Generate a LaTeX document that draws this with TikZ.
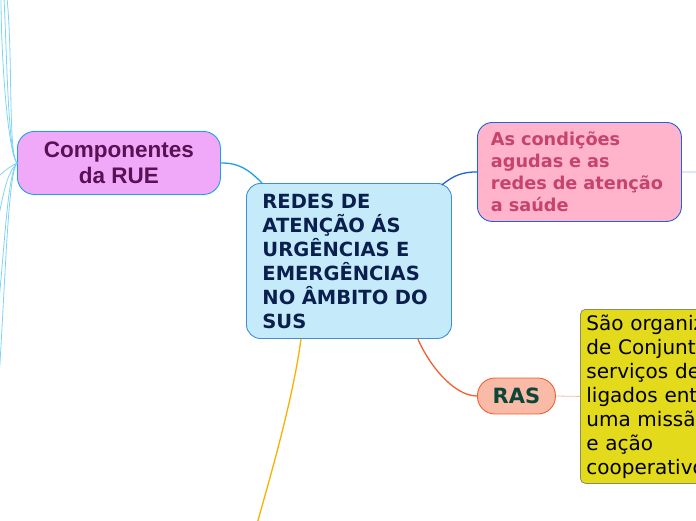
\documentclass[tikz,border=0pt]{standalone}
\usepackage{fontspec}
\usepackage{tikz}
\usetikzlibrary{arrows.meta,positioning,calc}
\newfontfamily\verd{DejaVu Sans}
\newfontfamily\arial{Liberation Sans}
\definecolor{hubfill}{HTML}{C5EBFB}
\definecolor{hubline}{HTML}{3D8FD6}
\definecolor{hubtext}{HTML}{0A1F4E}
\definecolor{compfill}{HTML}{F0A9F8}
\definecolor{compline}{HTML}{1BA1E8}
\definecolor{comptext}{HTML}{5B1055}
\definecolor{condfill}{HTML}{FFB4CC}
\definecolor{condline}{HTML}{1F63D9}
\definecolor{condtext}{HTML}{C5436C}
\definecolor{rasfill}{HTML}{F9BBA7}
\definecolor{rasline}{HTML}{F2602E}
\definecolor{rastext}{HTML}{0B4637}
\definecolor{yelfill}{HTML}{E3DA1C}
\definecolor{yelline}{HTML}{8C8C5C}
\definecolor{twig}{HTML}{7ED3F7}
\definecolor{amber}{HTML}{F9B000}

\begin{document}
\begin{tikzpicture}[x=1pt,y=-1pt,every node/.style={inner ysep=0pt,anchor=north west},
hub/.style={draw=hubline,fill=hubfill,rounded corners=14pt,line width=0.9pt,minimum width=205,minimum height=155,text width=173,inner xsep=16pt,align=left,text=hubtext,font=\verd\bfseries\fontsize{19.5}{24}\selectfont},
comp/.style={draw=compline,fill=compfill,rounded corners=17pt,line width=0.9pt,minimum width=203,minimum height=63,align=center,text=comptext,font=\arial\bfseries\fontsize{22.5}{26}\selectfont},
cond/.style={draw=condline,fill=condfill,rounded corners=15pt,line width=0.9pt,minimum width=204,minimum height=99,text width=177,inner xsep=13.5pt,align=left,text=condtext,font=\verd\bfseries\fontsize{17.7}{22}\selectfont},
ras/.style={draw=rasline,fill=rasfill,rounded corners=17.5pt,line width=0.9pt,minimum width=78,minimum height=36,inner xsep=2pt,text=rastext,font=\verd\bfseries\fontsize{21}{22}\selectfont},
note/.style={draw=yelline,fill=yelfill,rounded corners=5pt,line width=0.8pt,minimum width=160,minimum height=174,text width=220,inner xsep=6pt,align=left,text=black,font=\verd\fontsize{20}{24}\selectfont},
link/.style={line width=1.3pt},
thin/.style={line width=0.8pt,twig}]
\useasboundingbox (0,0) rectangle (696,520);
\clip (0,0) rectangle (696,520);
% nodes
\node[hub] (hub) at (246,183) {REDES DE\\ATENÇÃO ÁS\\URGÊNCIAS E\\EMERGÊNCIAS\\NO ÂMBITO DO\\SUS};
\node[comp] (comp) at (17,131) {Componentes\\da RUE};
\node[cond] (cond) at (477,122) {As condições\\agudas e as\\redes de atenção\\a saúde};
\node[ras,anchor=west] (ras) at (477,396) {RAS};
\node[note] (note) at (580,309) {São organizações\\de Conjuntos\\serviços de\\ligados entre\\uma missão\\e ação\\cooperativo};
% outer ends
\coordinate (condout) at (700,172); \coordinate (botout) at (257,524);
\coordinate (l1) at (1,-2); \coordinate (l2) at (4,-2); \coordinate (l3) at (7,-2);
\coordinate (l4) at (-1,176); \coordinate (l5) at (-1,215); \coordinate (l6) at (-1,300); \coordinate (l7) at (-1,378);
% connectors
\draw[link,compline] ([xshift=16pt]hub.north west) .. controls +(-14,-14) and +(18,0) .. (comp.east);
\draw[link,condline] ([xshift=-10pt,yshift=-2pt]hub.north east) .. controls +(12,-10) and +(-14,0) .. (cond.west);
\draw[link,rasline] ([xshift=-34pt]hub.south east) .. controls +(10,24) and +(-24,0) .. (ras.west);
\draw[link,amber] ([xshift=55pt]hub.south west) .. controls +(-8,60) and +(14,-50) .. (botout);
\draw[line width=0.8pt,rasline!45] (ras.east) -- (note.west);
\draw[line width=0.8pt,condline!45] (cond.east) -- (condout);
\foreach \t/\d in {l1/0,l2/3,l3/6}
  \draw[thin] (comp.west) .. controls +(-9,-10) and +(\d,60) .. (\t);
\draw[thin] (comp.west) .. controls +(-6,3) and +(4,-4) .. (l4);
\foreach \t/\d in {l5/30,l6/60,l7/90}
  \draw[thin] (comp.west) .. controls +(-9,10) and +(6,-\d) .. (\t);
\end{tikzpicture}
\end{document}
